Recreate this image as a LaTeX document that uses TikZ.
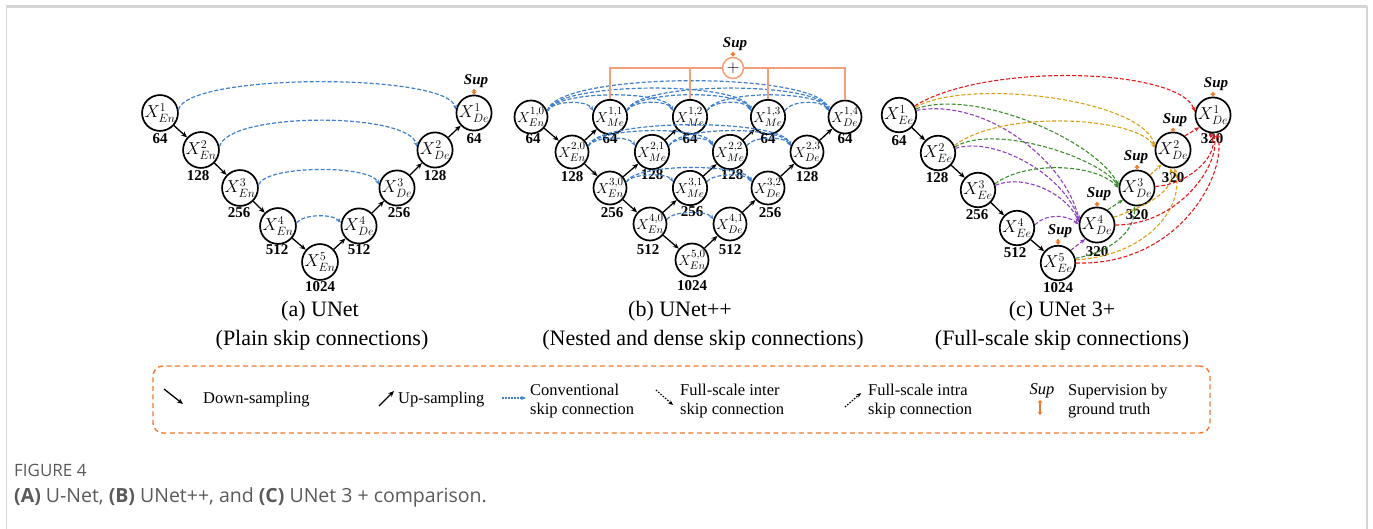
\documentclass[tikz,border=0pt]{standalone}
\usepackage{fontspec}
\setmainfont{Liberation Serif}
\newfontfamily\capfont{Open Sans}
\usetikzlibrary{arrows.meta}

\definecolor{skipblue}{HTML}{3F7FCC}
\definecolor{suporange}{HTML}{EE7A2F}
\definecolor{treeorange}{HTML}{F2A07A}
\definecolor{fsred}{HTML}{E31A1C}
\definecolor{fsgold}{HTML}{D9A21B}
\definecolor{fsgreen}{HTML}{3E8E2E}
\definecolor{fspurple}{HTML}{8E3FBF}
\definecolor{framegray}{HTML}{D6D6D6}
\definecolor{captext}{HTML}{5A5A5A}

\begin{document}
\begin{tikzpicture}[x=1pt,y=-1pt,
  unit/.style={circle,draw=black,line width=1.7pt,minimum size=33pt,inner sep=0pt,
    font=\fontsize{17}{17}\selectfont},
  unitb/.style={unit,font=\fontsize{15}{15}\selectfont},
  chan/.style={inner sep=0pt,font=\fontsize{15}{15}\selectfont\bfseries},
  samp/.style={line width=1.3pt,-{Stealth[length=6pt,width=5pt]}},
  convskip/.style={skipblue,line width=1.2pt,dash pattern=on 4pt off 2pt,
    -{Stealth[length=5pt,width=4pt]}},
  fsskip/.style={line width=1.1pt,dash pattern=on 4pt off 2pt,
    -{Stealth[length=5pt,width=4pt]}},
  suplab/.style={inner sep=1pt,font=\fontsize{15}{15}\selectfont\bfseries\itshape},
  suparrow/.style={suporange,line width=2pt,
    {Stealth[length=3pt,width=5pt]}-{Stealth[length=3pt,width=5pt]}},
  tree/.style={treeorange,line width=1.5pt},
  paneltitle/.style={font=\fontsize{22}{22}\selectfont},
  legtext/.style={font=\fontsize{16.5}{19}\selectfont,align=left,anchor=west,inner sep=0pt},
  dotblk/.style={line width=1.2pt,dash pattern=on 1.5pt off 1.5pt,
    -{Stealth[length=5pt,width=4pt]}},
]
\useasboundingbox (0,0) rectangle (1373,529);

% page frame
\draw[framegray,line width=2.5pt] (6,6.5) -- (1367,6.5);
\draw[framegray,line width=1.5pt] (6.5,6) -- (6.5,529);
\draw[framegray,line width=1.5pt] (1367,6) -- (1367,529);

% ---------------- (a) UNet ----------------
\node[unit] (ae1) at (160,113) {$X^{1}_{En}$};
\node[unit] (ae2) at (201,150) {$X^{2}_{En}$};
\node[unit] (ae3) at (240,188) {$X^{3}_{En}$};
\node[unit] (ae4) at (278,226) {$X^{4}_{En}$};
\node[unit] (ae5) at (320,262) {$X^{5}_{En}$};
\node[unit] (ad4) at (359,226) {$X^{4}_{De}$};
\node[unit] (ad3) at (397,188) {$X^{3}_{De}$};
\node[unit] (ad2) at (435,150) {$X^{2}_{De}$};
\node[unit] (ad1) at (474,113) {$X^{1}_{De}$};

\node[chan] (ace1) at (160,139) {64};
\node[chan] (ace2) at (198,176) {128};
\node[chan] (ace3) at (239,213) {256};
\node[chan] (ace4) at (277,250) {512};
\node[chan] (ace5) at (320,287) {1024};
\node[chan] (acd4) at (359,250) {512};
\node[chan] (acd3) at (399,213) {256};
\node[chan] (acd2) at (435,176) {128};
\node[chan] (acd1) at (474,139) {64};

\draw[samp] (ae1) -- (ae2);
\draw[samp] (ae2) -- (ae3);
\draw[samp] (ae3) -- (ae4);
\draw[samp] (ae4) -- (ae5);
\draw[samp] (ae5) -- (ad4);
\draw[samp] (ad4) -- (ad3);
\draw[samp] (ad3) -- (ad2);
\draw[samp] (ad2) -- (ad1);

\draw[convskip] (ae1.10) .. controls +(8,-37) and +(-8,-37) .. (ad1.170);
\draw[convskip] (ae2.10) .. controls +(8,-35) and +(-8,-35) .. (ad2.170);
\draw[convskip] (ae3.10) .. controls +(8,-20) and +(-8,-20) .. (ad3.170);
\draw[convskip] (ae4.10) .. controls +(8,-9) and +(-8,-9) .. (ad4.170);

\node[suplab] (asup) at (476,81) {Sup};
\draw[suparrow] (asup.south -| ad1.north) -- (ad1);

\node[paneltitle] (atitle) at (320,311) {(a) UNet};
\node[paneltitle] (asub) at (322,340) {(Plain skip connections)};

% ---------------- (b) UNet++ ----------------
\node[unitb] (b10) at (531,117) {$X^{1,0}_{En}$};
\node[unitb] (b11) at (610,117) {$X^{1,1}_{Me}$};
\node[unitb] (b12) at (690,117) {$X^{1,2}_{Me}$};
\node[unitb] (b13) at (768,117) {$X^{1,3}_{Me}$};
\node[unitb] (b14) at (845,117) {$X^{1,4}_{De}$};
\node[unitb] (b20) at (572,152) {$X^{2,0}_{En}$};
\node[unitb] (b21) at (652,152) {$X^{2,1}_{Me}$};
\node[unitb] (b22) at (730,152) {$X^{2,2}_{Me}$};
\node[unitb] (b23) at (807,152) {$X^{2,3}_{De}$};
\node[unitb] (b30) at (610,188) {$X^{3,0}_{En}$};
\node[unitb] (b31) at (690,188) {$X^{3,1}_{Me}$};
\node[unitb] (b32) at (768,188) {$X^{3,2}_{De}$};
\node[unitb] (b40) at (650,224) {$X^{4,0}_{En}$};
\node[unitb] (b41) at (730,224) {$X^{4,1}_{De}$};
\node[unitb] (b50) at (692,260) {$X^{5,0}_{En}$};

\node[chan] (bc10) at (533,139) {64};
\node[chan] (bc11) at (610,139) {64};
\node[chan] (bc12) at (690,139) {64};
\node[chan] (bc13) at (768,139) {64};
\node[chan] (bc14) at (845,139) {64};
\node[chan] (bc20) at (572,177) {128};
\node[chan] (bc21) at (652,175) {128};
\node[chan] (bc22) at (732,175) {128};
\node[chan] (bc23) at (807,177) {128};
\node[chan] (bc30) at (612,213) {256};
\node[chan] (bc31) at (692,212) {256};
\node[chan] (bc32) at (770,213) {256};
\node[chan] (bc40) at (648,250) {512};
\node[chan] (bc41) at (730,250) {512};
\node[chan] (bc50) at (692,286) {1024};

% down-sampling path
\draw[samp] (b10) -- (b20);
\draw[samp] (b20) -- (b30);
\draw[samp] (b30) -- (b40);
\draw[samp] (b40) -- (b50);
% up-sampling paths
\draw[samp] (b20) -- (b11);
\draw[samp] (b30) -- (b21);
\draw[samp] (b21) -- (b12);
\draw[samp] (b40) -- (b31);
\draw[samp] (b31) -- (b22);
\draw[samp] (b22) -- (b13);
\draw[samp] (b50) -- (b41);
\draw[samp] (b41) -- (b32);
\draw[samp] (b32) -- (b23);
\draw[samp] (b23) -- (b14);

% dense skip connections, row 1
\draw[convskip] (b10.20) .. controls +(6,-11) and +(-6,-11) .. (b11.160);
\draw[convskip] (b10.20) .. controls +(8,-21) and +(-8,-21) .. (b12.160);
\draw[convskip] (b10.20) .. controls +(8,-30) and +(-8,-30) .. (b13.160);
\draw[convskip] (b10.20) .. controls +(8,-40) and +(-8,-40) .. (b14.160);
\draw[convskip] (b11.20) .. controls +(6,-11) and +(-6,-11) .. (b12.160);
\draw[convskip] (b11.20) .. controls +(8,-21) and +(-8,-21) .. (b13.160);
\draw[convskip] (b11.20) .. controls +(8,-30) and +(-8,-30) .. (b14.160);
\draw[convskip] (b12.20) .. controls +(6,-11) and +(-6,-11) .. (b13.160);
\draw[convskip] (b12.20) .. controls +(8,-21) and +(-8,-21) .. (b14.160);
\draw[convskip] (b13.20) .. controls +(6,-11) and +(-6,-11) .. (b14.160);
% row 2
\draw[convskip] (b20.20) .. controls +(6,-10) and +(-6,-10) .. (b21.160);
\draw[convskip] (b20.20) .. controls +(8,-20) and +(-8,-20) .. (b22.160);
\draw[convskip] (b20.20) .. controls +(8,-28) and +(-8,-28) .. (b23.160);
\draw[convskip] (b21.20) .. controls +(6,-10) and +(-6,-10) .. (b22.160);
\draw[convskip] (b21.20) .. controls +(8,-20) and +(-8,-20) .. (b23.160);
\draw[convskip] (b22.20) .. controls +(6,-10) and +(-6,-10) .. (b23.160);
% row 3
\draw[convskip] (b30.20) .. controls +(6,-9) and +(-6,-9) .. (b31.160);
\draw[convskip] (b30.20) .. controls +(8,-19) and +(-8,-19) .. (b32.160);
\draw[convskip] (b31.20) .. controls +(6,-9) and +(-6,-9) .. (b32.160);
% row 4
\draw[convskip] (b40.15) .. controls +(6,-9) and +(-6,-9) .. (b41.165);

% deep supervision tree
\node[circle,draw=treeorange,line width=1.5pt,fill=white,minimum size=21pt,inner sep=0pt,
  font=\fontsize{18}{18}\selectfont] (bplus) at (733,68) {$+$};
\draw[tree] (b11.north) |- (bplus);
\draw[tree] (b14.north) |- (bplus);
\draw[tree] (b12.north) -- (b12.north |- bplus.center);
\draw[tree] (b13.north) -- (b13.north |- bplus.center);
\node[suplab] (bsup) at (735,44) {Sup};
\draw[suparrow] (bsup.south -| bplus.north) -- (bplus);

\node[paneltitle] (btitle) at (680,311) {(b) UNet++};
\node[paneltitle] (bsub) at (703,340) {(Nested and dense skip connections)};

% ---------------- (c) UNet 3+ ----------------
\node[unit] (ce1) at (899,115) {$X^{1}_{Ee}$};
\node[unit] (ce2) at (938,153) {$X^{2}_{Ee}$};
\node[unit] (ce3) at (978,190) {$X^{3}_{Ee}$};
\node[unit] (ce4) at (1017,228) {$X^{4}_{Ee}$};
\node[unit] (ce5) at (1058,263) {$X^{5}_{Ee}$};
\node[unit] (cd4) at (1097,225) {$X^{4}_{De}$};
\node[unit] (cd3) at (1137,188) {$X^{3}_{De}$};
\node[unit] (cd2) at (1173,150) {$X^{2}_{De}$};
\node[unit] (cd1) at (1213,115) {$X^{1}_{De}$};

\node[chan] (cce1) at (899,141) {64};
\node[chan] (cce2) at (937,178) {128};
\node[chan] (cce3) at (977,215) {256};
\node[chan] (cce4) at (1015,253) {512};
\node[chan] (cce5) at (1058,288) {1024};
\node[chan] (ccd4) at (1097,252) {320};
\node[chan] (ccd3) at (1137,215) {320};
\node[chan] (ccd2) at (1173,178) {320};
\node[chan] (ccd1) at (1212,139) {320};

\draw[samp] (ce1) -- (ce2);
\draw[samp] (ce2) -- (ce3);
\draw[samp] (ce3) -- (ce4);
\draw[samp] (ce4) -- (ce5);

% full-scale connections into X_De^4
\draw[fsskip,fspurple] (ce1.15) .. controls (985,98) and (1065,160) .. (cd4.165);
\draw[fsskip,fspurple] (ce2.15) .. controls (995,136) and (1065,175) .. (cd4.168);
\draw[fsskip,fspurple] (ce3.15) .. controls (1025,173) and (1068,195) .. (cd4.172);
\draw[fsskip,fspurple] (ce4.10) .. controls (1045,214) and (1066,214) .. (cd4.178);
\draw[fsskip,fspurple] (ce5.45) -- (cd4.230);
% into X_De^3
\draw[fsskip,fsgreen] (ce1.20) .. controls (975,88) and (1095,140) .. (cd3.172);
\draw[fsskip,fsgreen] (ce2.20) .. controls (995,123) and (1100,158) .. (cd3.176);
\draw[fsskip,fsgreen] (ce3.20) .. controls (1025,161) and (1095,163) .. (cd3.180);
\draw[fsskip,fsgreen] (cd4.55) -- (cd3.220);
\draw[fsskip,fsgreen] (ce5.15) .. controls (1110,252) and (1135,232) .. (cd3.262);
% into X_De^2
\draw[fsskip,fsgold] (ce1.25) .. controls (965,78) and (1140,98) .. (cd2.168);
\draw[fsskip,fsgold] (ce2.25) .. controls (1005,108) and (1140,118) .. (cd2.174);
\draw[fsskip,fsgold] (cd3.45) -- (cd2.232);
\draw[fsskip,fsgold] (cd4.25) .. controls (1150,205) and (1175,190) .. (cd2.262);
\draw[fsskip,fsgold] (ce5.10) .. controls (1150,255) and (1185,205) .. (cd2.275);
% into X_De^1
\draw[fsskip,fsred] (ce1.30) .. controls (985,62) and (1180,68) .. (cd1.170);
\draw[fsskip,fsred] (cd2.50) -- (cd1.222);
\draw[fsskip,fsred] (cd3.5) .. controls (1190,185) and (1222,152) .. (cd1.258);
\draw[fsskip,fsred] (cd4.0) .. controls (1180,225) and (1222,162) .. (cd1.270);
\draw[fsskip,fsred] (ce5.0) .. controls (1180,266) and (1228,172) .. (cd1.282);

% deep supervision
\node[suplab] (csup5) at (1060,231) {Sup};
\draw[suparrow] (csup5.south -| ce5.north) -- (ce5);
\node[suplab] (csup4) at (1099,194) {Sup};
\draw[suparrow] (csup4.south -| cd4.north) -- (cd4);
\node[suplab] (csup3) at (1136,157) {Sup};
\draw[suparrow] (csup3.south -| cd3.north) -- (cd3);
\node[suplab] (csup2) at (1175,120) {Sup};
\draw[suparrow] (csup2.south -| cd2.north) -- (cd2);
\node[suplab] (csup1) at (1216,84) {Sup};
\draw[suparrow] (csup1.south -| cd1.north) -- (cd1);

\node[paneltitle] (ctitle) at (1062,311) {(c) UNet 3+};
\node[paneltitle] (csub) at (1062,340) {(Full-scale skip connections)};

% ---------------- legend ----------------
\node[draw=suporange,line width=1.4pt,dash pattern=on 5pt off 3.5pt,rounded corners=10pt,
  minimum width=1057pt,minimum height=67pt,inner sep=0pt] (legbox) at (681.5,399.5) {};

\coordinate (ldA) at (164,389); \coordinate (ldB) at (183,404);
\draw[samp] (ldA) -- (ldB);
\node[legtext] (ldown) at (203,400) {Down-sampling};

\coordinate (luA) at (379,406); \coordinate (luB) at (394,391);
\draw[samp] (luA) -- (luB);
\node[legtext] (lup) at (398,400) {Up-sampling};

\coordinate (lcA) at (502,398); \coordinate (lcB) at (526,398);
\draw[skipblue,line width=1.2pt,dash pattern=on 1.5pt off 1.5pt,-{Stealth[length=5pt,width=4pt]}] (lcA) -- (lcB);
\node[legtext] (lconv) at (530,401) {Conventional\\skip connection};

\coordinate (liA) at (656,390); \coordinate (liB) at (673,405);
\draw[dotblk] (liA) -- (liB);
\node[legtext] (linter) at (680,401) {Full-scale inter\\skip connection};

\coordinate (laA) at (845,407); \coordinate (laB) at (861,393);
\draw[dotblk] (laA) -- (laB);
\node[legtext] (lintra) at (868,401) {Full-scale intra\\skip connection};

\node[inner sep=0pt,font=\fontsize{16.5}{16.5}\selectfont\itshape] (lsup) at (1042,391) {Sup};
\coordinate (lsA) at (1040,400); \coordinate (lsB) at (1040,415);
\draw[suparrow] (lsA) -- (lsB);
\node[legtext] (lsupt) at (1068,401) {Supervision by\\ground truth};

% ---------------- caption ----------------
\node[anchor=west,inner sep=0pt,text=captext,font=\capfont\fontsize{17}{17}\selectfont] (figno) at (14,470) {FIGURE 4};
\node[anchor=west,inner sep=0pt,text=captext,font=\capfont\fontsize{19.5}{19.5}\selectfont] (figcap) at (14,497)
  {\textbf{(A)} U-Net, \textbf{(B)} UNet++, and \textbf{(C)} UNet 3 + comparison.};
\end{tikzpicture}
\end{document}
